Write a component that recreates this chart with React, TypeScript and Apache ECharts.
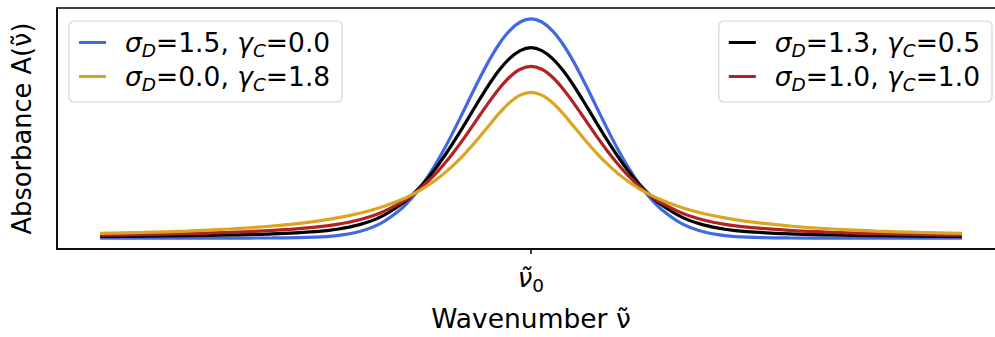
import React, { useEffect, useRef } from "react";
import * as echarts from "echarts";

// wavenumber offsets from the line centre (arbitrary units)
const xValues = [
  -10, -9, -8, -7, -6, -5, -4.5, -4, -3.5, -3, -2.75, -2.5, -2.25, -2, -1.75, -1.5, -1.25, -1, -0.75, -0.5, -0.25,
  0,
  0.25, 0.5, 0.75, 1, 1.25, 1.5, 1.75, 2, 2.25, 2.5, 2.75, 3, 3.5, 4, 4.5, 5, 6, 7, 8, 9, 10,
];

const blueVals = [
  0, 0, 0, 0, 0.0001, 0.001, 0.003, 0.0076, 0.0175, 0.036, 0.0495, 0.0663, 0.0864, 0.1093, 0.1347, 0.1613, 0.1879, 0.213, 0.2347, 0.2516, 0.2623,
  0.266,
  0.2623, 0.2516, 0.2347, 0.213, 0.1879, 0.1613, 0.1347, 0.1093, 0.0864, 0.0663, 0.0495, 0.036, 0.0175, 0.0076, 0.003, 0.001, 0.0001, 0, 0, 0, 0,
];

const blackVals = [
  0.0019, 0.0023, 0.0029, 0.0038, 0.0051, 0.0078, 0.0107, 0.016, 0.0254, 0.0414, 0.0526, 0.0661, 0.082, 0.1002, 0.1203, 0.1417, 0.1634, 0.1843, 0.203, 0.2179, 0.2276,
  0.2312,
  0.2276, 0.2179, 0.203, 0.1843, 0.1634, 0.1417, 0.1203, 0.1002, 0.082, 0.0661, 0.0526, 0.0414, 0.0254, 0.016, 0.0107, 0.0078, 0.0051, 0.0038, 0.0029, 0.0023, 0.0019,
];

const redVals = [
  0.0035, 0.0043, 0.0054, 0.0069, 0.0092, 0.0133, 0.0166, 0.0219, 0.0303, 0.0435, 0.0524, 0.0633, 0.076, 0.0908, 0.1073, 0.1253, 0.1443, 0.1632, 0.1807, 0.1952, 0.2049,
  0.2085,
  0.2049, 0.1952, 0.1807, 0.1632, 0.1443, 0.1253, 0.1073, 0.0908, 0.076, 0.0633, 0.0524, 0.0435, 0.0303, 0.0219, 0.0166, 0.0133, 0.0092, 0.0069, 0.0054, 0.0043, 0.0035,
];

const yellowVals = [
  0.0056, 0.0068, 0.0085, 0.011, 0.0146, 0.0203, 0.0244, 0.0298, 0.037, 0.0468, 0.053, 0.0604, 0.069, 0.0791, 0.0909, 0.1044, 0.1193, 0.1351, 0.1507, 0.1642, 0.1735,
  0.1768,
  0.1735, 0.1642, 0.1507, 0.1351, 0.1193, 0.1044, 0.0909, 0.0791, 0.069, 0.0604, 0.053, 0.0468, 0.037, 0.0298, 0.0244, 0.0203, 0.0146, 0.011, 0.0085, 0.0068, 0.0056,
];

// series labels: [sigma_D value, gamma_C value]
const seriesNames = ["s1", "s2", "s3", "s4"];
const sigmaLabels = ["1.5", "1.3", "1.0", "0.0"];
const gammaLabels = ["0.0", "0.5", "1.0", "1.8"];
const seriesColors = ["#4169e1", "#000000", "#b22222", "#daa520"];
const seriesData = [blueVals, blackVals, redVals, yellowVals];

const xTickValues = [0];
const xTickLabel = "ν̃";
const xTickSub = "0";
const xAxisName = "Wavenumber ν̃";
const yAxisName = "Absorbance A(ν̃)";

const FONT = "DejaVu Sans";
const CHART_W = 1010; // plot frame extends past the right edge of the picture
const CHART_H = 337;

export default function App() {
  const ref = useRef<HTMLDivElement>(null);

  useEffect(() => {
    if (!ref.current) return;
    const chart = echarts.init(ref.current, undefined, { renderer: "svg" });

    const legendText = (name: string) => {
      const i = seriesNames.indexOf(name);
      return `{i|σ}{s|D}{n|=${sigmaLabels[i]}, }{i|γ}{s|C}{n|=${gammaLabels[i]}}`;
    };

    const legendRich = {
      n: { fontSize: 26.5, lineHeight: 35, fontFamily: FONT, color: "#000" },
      i: { fontSize: 26.5, lineHeight: 35, fontFamily: FONT, fontStyle: "italic", color: "#000" },
      s: { fontSize: 18.5, lineHeight: 18.5, fontFamily: FONT, fontStyle: "italic", verticalAlign: "bottom", color: "#000" },
    };

    const legendCommon = {
      orient: "vertical",
      icon: "rect",
      itemWidth: 27,
      itemHeight: 3,
      itemGap: 3,
      padding: [8, 12, 8, 10],
      backgroundColor: "#ffffff",
      borderColor: "#d6d6d6",
      borderWidth: 1.2,
      borderRadius: 5,
      formatter: legendText,
      textStyle: { fontSize: 26.5, fontFamily: FONT, color: "#000", padding: [0, 0, 0, 14], rich: legendRich },
    };

    chart.setOption({
      animation: false,
      grid: {
        left: 57,
        top: 8,
        width: 948,
        height: 247,
        show: true,
        borderColor: "#000",
        borderWidth: 1.5,
        backgroundColor: "transparent",
      },
      legend: [
        { ...legendCommon, left: 69, top: 21, data: [seriesNames[0], seriesNames[3]] },
        { ...legendCommon, right: CHART_W - 992, top: 21, data: [seriesNames[1], seriesNames[2]] },
      ],
      xAxis: {
        type: "value",
        min: -11,
        max: 11,
        name: xAxisName,
        nameLocation: "middle",
        nameGap: 56,
        nameTextStyle: { fontSize: 26.5, fontFamily: FONT, color: "#000" },
        axisLine: { show: true, onZero: false, lineStyle: { color: "#000", width: 1.5 } },
        axisTick: { show: true, customValues: xTickValues, length: 5, lineStyle: { color: "#000", width: 1.5 } },
        axisLabel: {
          show: true,
          customValues: xTickValues,
          margin: 12,
          formatter: () => `{v|${xTickLabel}}{s|${xTickSub}}`,
          rich: {
            v: { fontSize: 26, lineHeight: 34, fontFamily: FONT, fontStyle: "italic", color: "#000" },
            s: { fontSize: 18.5, lineHeight: 18.5, fontFamily: FONT, verticalAlign: "bottom", color: "#000" },
          },
        },
        splitLine: { show: false },
      },
      yAxis: {
        type: "value",
        min: -0.0133,
        max: 0.2793,
        name: yAxisName,
        nameLocation: "middle",
        nameGap: 22,
        nameTextStyle: { fontSize: 25.7, fontFamily: FONT, color: "#000" },
        axisLine: { show: true, onZero: false, lineStyle: { color: "#000", width: 1.5 } },
        axisTick: { show: false },
        axisLabel: { show: false },
        splitLine: { show: false },
      },
      series: seriesNames.map((name, k) => ({
        name,
        type: "line",
        data: xValues.map((x, j) => [x, seriesData[k][j]]),
        showSymbol: false,
        symbol: "none",
        smooth: 0.3,
        lineStyle: { color: seriesColors[k], width: 3.2 },
        itemStyle: { color: seriesColors[k] },
        z: 2 + k,
      })),
    });

    return () => chart.dispose();
  }, []);

  return (
    <div
      style={{ position: "absolute", left: 0, top: 0, width: 995, height: CHART_H, overflow: "hidden", background: "#fff" }}
    >
      <div ref={ref} style={{ width: CHART_W, height: CHART_H }} />
    </div>
  );
}
